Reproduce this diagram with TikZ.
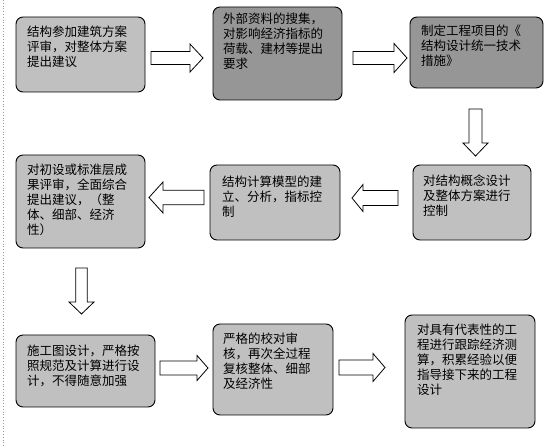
\documentclass[tikz,border=0pt]{standalone}
\usepackage{fontspec}
\newfontfamily\cjk{Noto Sans CJK SC}
\definecolor{boxlight}{HTML}{C0C0C0}
\definecolor{boxdark}{HTML}{969696}
\newcommand\harrowshape[6]{%
  \draw[blockarrow] ({#1},{#4-#5}) -- ({#2},{#4-#5}) -- ({#2},{#4-#6}) -- ({#3},{#4})
    -- ({#2},{#4+#6}) -- ({#2},{#4+#5}) -- ({#1},{#4+#5}) -- cycle;}
\newcommand\varrowshape[6]{%
  \draw[blockarrow] ({#1-#5},{#2}) -- ({#1-#5},{#3}) -- ({#1-#6},{#3}) -- ({#1},{#4})
    -- ({#1+#6},{#3}) -- ({#1+#5},{#3}) -- ({#1+#5},{#2}) -- cycle;}
\begin{document}
\begin{tikzpicture}[x=1pt,y=-1pt,
  box/.style={draw=black, line width=0.9pt, rounded corners=7pt, inner sep=0pt},
  light/.style={box, fill=boxlight},
  dark/.style={box, fill=boxdark},
  label/.style={anchor=north west, inner sep=0pt, align=left, font=\cjk\fontsize{12.5}{15}\selectfont},
  blockarrow/.style={draw=black, line width=0.8pt, fill=white, line join=miter}]
\useasboundingbox (0,0) rectangle (555,446);
\fill[white] (0,0) rectangle (555,446);
\draw[black!40, dotted, line width=0.8pt] (3,0) -- (3,446);

% boxes
\node[light, minimum width=129pt, minimum height=75pt] (b1) at (80.5,54.5) {};
\node[dark,  minimum width=129pt, minimum height=93pt] (b2) at (277.5,53.5) {};
\node[dark,  minimum width=133pt, minimum height=71pt] (b3) at (476.5,52.5) {};
\node[light, minimum width=118pt, minimum height=75pt] (b4) at (472,202.5) {};
\node[light, minimum width=130pt, minimum height=75pt] (b5) at (275,202.5) {};
\node[light, minimum width=129pt, minimum height=93pt] (b6) at (80.5,201.5) {};
\node[light, minimum width=139pt, minimum height=72pt] (b7) at (85.5,371) {};
\node[light, minimum width=120pt, minimum height=91pt] (b8) at (273,369.5) {};
\node[light, minimum width=130pt, minimum height=113pt] (b9) at (470,371.5) {};

% texts
\node[label] (t1) at (27,26) {结构参加建筑方案\\评审，对整体方案\\提出建议};
\node[label] (t2) at (223,13) {外部资料的搜集，\\对影响经济指标的\\荷载、建材等提出\\要求};
\node[label] (t3) at (421,25) {制定工程项目的《\\结构设计统一技术\\措施》};
\node[label] (t4) at (423,175) {对结构概念设计\\及整体方案进行\\控制};
\node[label] (t5) at (222,176) {结构计算模型的建\\立、分析，指标控\\制};
\node[label] (t6) at (27,164) {对初设或标准层成\\果评审，全面综合\\提出建议，（整\\体、细部、经济\\性）};
\node[label] (t7) at (27,345) {施工图设计，严格按\\照规范及计算进行设\\计，不得随意加强};
\node[label] (t8) at (223,333) {严格的校对审\\核，再次全过程\\复核整体、细部\\及经济性};
\node[label] (t9) at (417,324) {对具有代表性的工\\程进行跟踪经济测\\算，积累经验以便\\指导接下来的工程\\设计};

% block arrows
\harrowshape{151}{190}{203}{58}{6.5}{14}
\harrowshape{353}{394}{407}{58}{6.5}{14.5}
\varrowshape{475.5}{109}{143}{156}{6.5}{12.5}
\harrowshape{398}{363}{352}{198}{7.5}{13.5}
\harrowshape{204}{163}{149}{197.5}{7.2}{15.5}
\varrowshape{81.5}{268}{302}{314}{5.7}{12.5}
\harrowshape{160}{197}{208}{368}{7}{12.5}
\harrowshape{339}{373}{385}{367.5}{7.5}{14}
\end{tikzpicture}
\end{document}
